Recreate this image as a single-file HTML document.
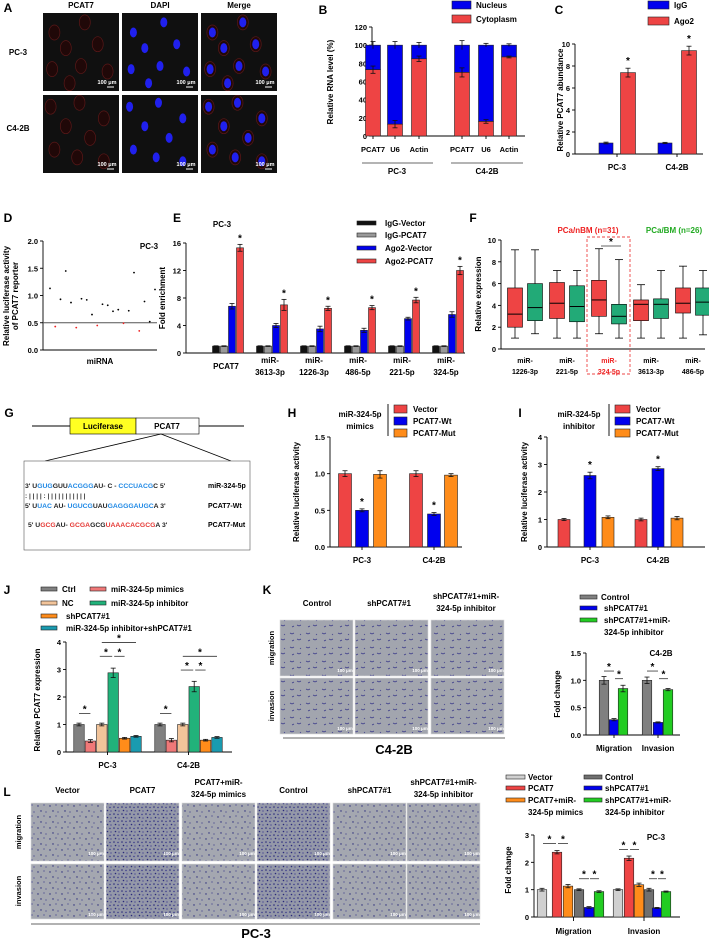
<!DOCTYPE html>
<html><head><meta charset="utf-8"><style>
html,body{margin:0;padding:0;background:#fff;}
svg{display:block;font-family:"Liberation Sans Narrow","Liberation Sans",sans-serif;font-weight:bold;}
</style></head><body>
<svg id="fig" width="709" height="941" viewBox="0 0 709 941" xmlns="http://www.w3.org/2000/svg">
<defs>
<pattern id="cellsSparse" width="12" height="11" patternUnits="userSpaceOnUse">
<rect width="12" height="11" fill="#a4a7b0"/>
<circle cx="2" cy="3" r="0.7" fill="#2a2a7a"/><circle cx="8" cy="2" r="0.6" fill="#3a3a8a"/>
<circle cx="5" cy="8" r="0.7" fill="#2a2a7a"/><circle cx="10" cy="9" r="0.6" fill="#3a3a8a"/>
</pattern>
<pattern id="cellsDense" width="8" height="7" patternUnits="userSpaceOnUse">
<rect width="8" height="7" fill="#9498a8"/>
<circle cx="2" cy="2" r="0.8" fill="#2a2a7a"/><circle cx="6" cy="2.5" r="0.7" fill="#30308a"/>
<circle cx="3.5" cy="5.5" r="0.8" fill="#2a2a7a"/><circle cx="7" cy="6" r="0.6" fill="#30308a"/>
</pattern>
<pattern id="cellsK" width="16" height="14" patternUnits="userSpaceOnUse">
<rect width="16" height="14" fill="#a2a5ae"/>
<path d="M2 3 l2 1 l2 -1 M9 9 l2 1 l2 -1 M4 11 l2 -1 M12 4 l1 1" stroke="#3a3a8a" stroke-width="0.7" fill="none"/>
</pattern>
</defs>
</svg>
<script>
// ===== data =====
const bCats=['PCAT7','U6','Actin','PCAT7','U6','Actin'];
const bCyto=[73,13,85,70,16,87];
const bCytoErr=[4,4,3,5,2,1];
const bTotal=[100,100,100,100,100,100];
const bTotalErr=[4,4,3,5,2,1.5];
const bTicks=[0,20,40,60,80,100,120];

const cGroups=['PC-3','C4-2B'];
const cIgG=[1,1];
const cIgGErr=[0.08,0.06];
const cAgo2=[7.4,9.4];
const cAgo2Err=[0.4,0.4];
const cTicks=[0,2,4,6,8,10];

const dValues=[1.13,0.43,0.93,1.45,0.87,0.41,0.94,0.92,0.65,0.45,0.84,0.82,0.71,0.74,0.49,0.72,1.42,0.35,0.89,0.52,1.11];
const dRed=[0,1,0,0,0,1,0,0,0,1,0,0,0,0,1,0,0,1,0,0,0];
const dTicks=[0,0.5,1,1.5,2];
const dTickLabels=['0.0','0.5','1.0','1.5','2.0'];

const eCats=[['PCAT7'],['miR-','3613-3p'],['miR-','1226-3p'],['miR-','486-5p'],['miR-','221-5p'],['miR-','324-5p']];
const eIgGVec=[1,1,1,1,1,1];
const eIgGPcat=[1,1,1,1,1,1];
const eAgoVec=[6.8,4.0,3.5,3.3,5.0,5.6];
const eAgoPcat=[15.3,7.0,6.5,6.6,7.7,12.0];
const eAgoVecErr=[0.4,0.3,0.4,0.3,0.2,0.4];
const eAgoPcatErr=[0.5,0.8,0.3,0.3,0.4,0.6];
const eTicks=[0,4,8,12,16];

const fCats=[['miR-','1226-3p'],['miR-','221-5p'],['miR-','324-5p'],['miR-','3613-3p'],['miR-','486-5p']];
const fRedMin=[1,1,1.4,1,1];
const fRedQ1=[2,2.8,3.0,2.6,3.3];
const fRedMed=[3.2,4.2,4.5,4.1,4.2];
const fRedQ3=[5.6,6.1,6.3,4.5,5.6];
const fRedMax=[9.1,7.2,9.2,5.9,7.6];
const fGrnMin=[1.4,1,1,1,1.3];
const fGrnQ1=[2.6,2.5,2.3,2.8,3.1];
const fGrnMed=[3.8,3.9,3.0,4.1,4.3];
const fGrnQ3=[6.0,5.8,4.1,4.6,5.6];
const fGrnMax=[9.1,7.2,8.2,7.2,7.2];
const fTicks=[0,2,4,6,8,10];

const hGroups=['PC-3','C4-2B'];
const hVector=[1.0,1.0];
const hWt=[0.50,0.45];
const hMut=[0.99,0.98];
const hVectorErr=[0.04,0.04];
const hWtErr=[0.02,0.02];
const hMutErr=[0.05,0.02];
const hTicks=[0,0.5,1,1.5];
const hTickLabels=['0.0','0.5','1.0','1.5'];

const iGroups=['PC-3','C4-2B'];
const iVector=[1.0,1.0];
const iWt=[2.6,2.85];
const iMut=[1.08,1.05];
const iVectorErr=[0.04,0.05];
const iWtErr=[0.12,0.07];
const iMutErr=[0.05,0.06];
const iTicks=[0,1,2,3,4];

const jGroups=['PC-3','C4-2B'];
const jCtrl=[1,1];
const jMimics=[0.4,0.43];
const jNC=[1,1];
const jInhib=[2.88,2.38];
const jSh=[0.5,0.43];
const jCombo=[0.57,0.53];
const jErr=[[0.05,0.05],[0.05,0.06],[0.05,0.05],[0.17,0.19],[0.03,0.03],[0.03,0.03]];
const jTicks=[0,1,2,3,4];

const kCats=['Migration','Invasion'];
const kControl=[1.0,1.0];
const kSh=[0.28,0.23];
const kCombo=[0.85,0.83];
const kErr=[[0.07,0.06],[0.02,0.01],[0.06,0.02]];
const kTicks=[0,0.5,1,1.5];
const kTickLabels=['0.0','0.5','1.0','1.5'];

const lCats=['Migration','Invasion'];
const lVector=[1,1];
const lPcat=[2.37,2.15];
const lPcatMim=[1.13,1.18];
const lControl=[1,1];
const lSh=[0.35,0.33];
const lCombo=[0.93,0.93];
const lErr=[[0.05,0.03],[0.06,0.08],[0.06,0.06],[0.03,0.05],[0.03,0.02],[0.03,0.02]];
const lTicks=[0,1,2,3];

// ===== helpers =====
const NS='http://www.w3.org/2000/svg';
const svg=document.getElementById('fig');
function mk(tag,attrs,name,parent){
  const el=document.createElementNS(NS,tag);
  for(const k in attrs) el.setAttribute(k,attrs[k]);
  
  
  (parent||svg).appendChild(el);
  return el;
}
function T(x,y,s,size,anchor,fill,name,rot){
  const a={x:x,y:y,'font-size':size||8,'text-anchor':anchor||'middle',fill:fill||'#000'};
  if(rot) a.transform='rotate('+rot+' '+x+' '+y+')';
  const el=mk('text',a,name);
  el.textContent=s;
  return el;
}
function L(x1,y1,x2,y2,name,stroke,w,dash){
  const a={x1:x1,y1:y1,x2:x2,y2:y2,stroke:stroke||'#000','stroke-width':w||0.8};
  if(dash) a['stroke-dasharray']=dash;
  return mk('line',a,name);
}
function R(x,y,w,h,fill,name,stroke){
  return mk('rect',{x:x,y:y,width:w,height:h,fill:fill,stroke:stroke||'none','stroke-width':0.6},name);
}
function lin(d0,d1,p0,p1){return v=>p0+(v-d0)*(p1-p0)/(d1-d0);}
function yAxis(x,sc,ticks,labels,name,fs){
  L(x,sc(ticks[0]),x,sc(ticks[ticks.length-1]),name+'-line','#000',0.9);
  ticks.forEach((t,i)=>{
    L(x-3,sc(t),x,sc(t),name+'-tick','#000',0.9);
    T(x-5,sc(t)+3,labels?labels[i]:String(t),fs||7.5,'end','#000',name+'-label');
  });
}
function bar(cx,w,v,err,sc,color,name){
  R(cx-w/2,sc(v),w,sc(0)-sc(v),color,name,'#222');
  if(err){
    L(cx,sc(v+err),cx,sc(v-err),name+'-error','#111',0.8);
    L(cx-2.5,sc(v+err),cx+2.5,sc(v+err),name+'-error-cap','#111',0.8);
    L(cx-2.5,sc(v-err),cx+2.5,sc(v-err),name+'-error-cap','#111',0.8);
  }
}
function star(x,y,name){T(x,y,'*',10,'middle','#000',name||'significance-star');}
function sig(x1,x2,y,name){L(x1,y,x2,y,name+'-line','#333',0.8);star((x1+x2)/2,y-1,name+'-star');}
function legendRect(x,y,w,h,color,label,name,tx){
  R(x,y-h/2,w,h,color,name+'-swatch','#222');
  T(tx!==undefined?tx:x+w+5,y+3,label,8,'start','#000',name+'-label');
}

// ===== Panel A =====
T(8,12,'A',12,'middle','#000','panel-a-label');
const aCols=[43,122,201],aRows=[13,95],aW=76,aH=78;
['PCAT7','DAPI','Merge'].forEach((s,i)=>T(aCols[i]+aW/2,8,s,8,'middle','#000','panel-a-column-header'));
T(18,55,'PC-3',8,'middle','#000','panel-a-row-label');
T(18,131,'C4-2B',8,'middle','#000','panel-a-row-label');
const cellPos=[[[0.15,0.25],[0.55,0.12],[0.3,0.45],[0.72,0.4],[0.12,0.72],[0.5,0.68],[0.85,0.75],[0.35,0.9]],
               [[0.1,0.15],[0.48,0.1],[0.8,0.3],[0.3,0.4],[0.62,0.55],[0.15,0.7],[0.45,0.8],[0.8,0.85]]];
aRows.forEach((ry,r)=>{
  aCols.forEach((cx,c)=>{
    R(cx,ry,aW,aH,'#101010','micrograph-'+(r?'c4-2b':'pc-3')+'-'+c);
    cellPos[r].forEach(p=>{
      const x=cx+p[0]*aW,y=ry+p[1]*aH;
      if(c===0||c===2) mk('ellipse',{cx:x,cy:y,rx:5.5,ry:7.5,fill:'#200808',stroke:'#5a1818','stroke-width':0.7},'cell-cytoplasm');
      if(c>=1) mk('ellipse',{cx:x,cy:y,rx:3.5,ry:5,fill:'#2020ee'},'cell-nucleus');
    });
    L(cx+aW-12,ry+aH-4,cx+aW-5,ry+aH-4,'scale-bar','#fff',1);
    T(cx+aW-12,ry+aH-7,'100 μm',5.5,'middle','#fff','scale-bar-label');
  });
});

// ===== Panel B =====
T(323,14,'B',12,'middle','#000','panel-b-label');
const bY=lin(0,120,136,27);
const bX=[373,395,419,462,486,509];
yAxis(372,bY,bTicks,null,'panel-b-y-axis');
L(372,bY(0),525,bY(0),'panel-b-x-axis','#000',0.9);
bCats.forEach((c,i)=>{
  R(bX[i]-7.5,bY(bTotal[i]),15,bY(bCyto[i])-bY(bTotal[i]),'#0000ee','bar-nucleus-'+c,'#222');
  bar(bX[i],15,bCyto[i],bCytoErr[i],bY,'#ee4444','bar-cytoplasm-'+c);
  L(bX[i],bY(bTotal[i]+bTotalErr[i]),bX[i],bY(bTotal[i]-bTotalErr[i]),'error-nucleus','#111',0.8);
  L(bX[i]-2.5,bY(bTotal[i]+bTotalErr[i]),bX[i]+2.5,bY(bTotal[i]+bTotalErr[i]),'error-cap','#111',0.8);
  L(bX[i],bY(0),bX[i],bY(0)+3,'panel-b-x-tick','#000',0.9);
  T(bX[i],152,c,7.5,'middle','#000','panel-b-x-label');
});
L(362,163,433,163,'group-line-pc-3','#888',1.2);
L(451,163,523,163,'group-line-c4-2b','#888',1.2);
T(397,174,'PC-3',8,'middle','#000','panel-b-group-label');
T(487,174,'C4-2B',8,'middle','#000','panel-b-group-label');
T(333,82,'Relative RNA level (%)',8,'middle','#000','panel-b-y-title',-90);
legendRect(452,5,19,8,'#0000ee','Nucleus','legend-nucleus',476);
legendRect(452,19,19,8,'#ee4444','Cytoplasm','legend-cytoplasm',476);

// ===== Panel C =====
T(559,14,'C',12,'middle','#000','panel-c-label');
const cY=lin(0,10,154,44);
const cX=[[606,628],[665,689]];
yAxis(575,cY,cTicks,null,'panel-c-y-axis');
L(575,cY(0),703,cY(0),'panel-c-x-axis','#000',0.9);
cGroups.forEach((g,i)=>{
  bar(cX[i][0],14,cIgG[i],cIgGErr[i],cY,'#0000ee','bar-igg-'+g);
  bar(cX[i][1],15,cAgo2[i],cAgo2Err[i],cY,'#ee4444','bar-ago2-'+g);
  star(cX[i][1],cY(cAgo2[i]+cAgo2Err[i])-4,'star-ago2');
  const mid=(cX[i][0]+cX[i][1])/2;
  L(mid,cY(0),mid,cY(0)+3,'panel-c-x-tick','#000',0.9);
  T(mid,170,g,8,'middle','#000','panel-c-x-label');
});
T(563,100,'Relative PCAT7 abundance',8,'middle','#000','panel-c-y-title',-90);
legendRect(648,5,21,8,'#0000ee','IgG','legend-igg',674);
legendRect(648,21,21,8,'#ee4444','Ago2','legend-ago2',674);

// ===== Panel D =====
T(8,222,'D',12,'middle','#000','panel-d-label');
const dY=lin(0,2,350,241);
const dX=lin(0,20,50,155);
yAxis(43,dY,dTicks,dTickLabels,'panel-d-y-axis');
L(43,dY(0),157,dY(0),'panel-d-x-axis','#000',0.9);
L(43,dY(0.5),157,dY(0.5),'panel-d-threshold-line','#555',0.9);
dValues.forEach((v,i)=>{
  mk('circle',{cx:dX(i),cy:dY(v),r:0.9,fill:dRed[i]?'#ee2222':'#000'},'point-mirna-'+i);
});
T(149,249,'PC-3',8,'middle','#000','panel-d-title');
T(100,364,'miRNA',8,'middle','#000','panel-d-x-title');
T(9,296,'Relative luciferase activity',8,'middle','#000','panel-d-y-title',-90);
T(18,296,'of PCAT7 reporter',8,'middle','#000','panel-d-y-title',-90);

// ===== Panel E =====
T(177,222,'E',12,'middle','#000','panel-e-label');
T(222,227,'PC-3',8,'middle','#000','panel-e-title');
const eY=lin(0,16,353,243);
yAxis(186,eY,eTicks,null,'panel-e-y-axis');
L(186,eY(0),465,eY(0),'panel-e-x-axis','#000',0.9);
const eCenters=[226,270,314,358,402,446];
eCats.forEach((c,i)=>{
  const cx=eCenters[i]+2;
  bar(cx-12,7,eIgGVec[i],0.05,eY,'#111','bar-igg-vector-'+i);
  bar(cx-4,7,eIgGPcat[i],0.05,eY,'#999','bar-igg-pcat7-'+i);
  bar(cx+4,7,eAgoVec[i],eAgoVecErr[i],eY,'#0000ee','bar-ago2-vector-'+i);
  bar(cx+12,7,eAgoPcat[i],eAgoPcatErr[i],eY,'#ee4444','bar-ago2-pcat7-'+i);
  star(cx+12,eY(eAgoPcat[i]+eAgoPcatErr[i])-3,'star-ago2-pcat7');
  if(c.length===1) T(eCenters[i],369,c[0],8,'middle','#000','panel-e-x-label');
  else {T(eCenters[i],363,c[0],8,'middle','#000','panel-e-x-label');T(eCenters[i],375,c[1],8,'middle','#000','panel-e-x-label');}
});
T(165,298,'Fold enrichment',8,'middle','#000','panel-e-y-title',-90);
legendRect(357,223,19,4,'#111','IgG-Vector','legend-igg-vector',385);
legendRect(357,235,19,4,'#999','IgG-PCAT7','legend-igg-pcat7',385);
legendRect(357,248,19,4,'#0000ee','Ago2-Vector','legend-ago2-vector',385);
legendRect(357,261,19,4,'#ee4444','Ago2-PCAT7','legend-ago2-pcat7',385);

// ===== Panel F =====
T(473,222,'F',12,'middle','#000','panel-f-label');
T(588,233,'PCa/nBM (n=31)',8,'middle','#ee2222','legend-pca-nbm');
T(674,233,'PCa/BM (n=26)',8,'middle','#22aa22','legend-pca-bm');
const fY=lin(0,10,349,240);
yAxis(501,fY,fTicks,null,'panel-f-y-axis');
L(501,fY(0),705,fY(0),'panel-f-x-axis','#000',0.9);
function box(cx,mn,q1,md,q3,mx,color,name){
  L(cx,fY(mx),cx,fY(mn),name+'-whisker','#000',0.8);
  L(cx-4,fY(mx),cx+4,fY(mx),name+'-whisker-cap','#000',0.8);
  L(cx-4,fY(mn),cx+4,fY(mn),name+'-whisker-cap','#000',0.8);
  R(cx-7.5,fY(q3),15,fY(q1)-fY(q3),color,name,'#000');
  L(cx-7.5,fY(md),cx+7.5,fY(md),name+'-median','#000',1);
}
const fCenters=[525,567,609,651,693];
fCats.forEach((c,i)=>{
  box(fCenters[i]-10,fRedMin[i],fRedQ1[i],fRedMed[i],fRedQ3[i],fRedMax[i],'#ee4444','box-nbm-'+i);
  box(fCenters[i]+10,fGrnMin[i],fGrnQ1[i],fGrnMed[i],fGrnQ3[i],fGrnMax[i],'#22aa77','box-bm-'+i);
  const col=i===2?'#ee2222':'#000';
  T(fCenters[i],363,c[0],7,'middle',col,'panel-f-x-label');
  T(fCenters[i],374,c[1],7,'middle',col,'panel-f-x-label');
});
mk('rect',{x:587,y:237,width:43,height:137,fill:'none',stroke:'#ee4444','stroke-width':0.9,'stroke-dasharray':'3,2'},'highlight-box-mir-324-5p');
sig(601,621,246,'sig-mir-324-5p');
T(481,294,'Relative expression',8,'middle','#000','panel-f-y-title',-90);

// ===== Panel G =====
T(9,417,'G',12,'middle','#000','panel-g-label');
L(32,426,244,426,'construct-line','#000',0.9);
R(70,418,66,16,'#ffff22','luciferase-box','#000');
T(103,429,'Luciferase',8,'middle','#000','luciferase-label');
R(136,418,63,16,'#fff','pcat7-box','#000');
T(167,429,'PCAT7',8,'middle','#000','pcat7-label');
L(161,434,45,461,'zoom-line-left','#000',0.8);
L(161,434,231,461,'zoom-line-right','#000',0.8);
R(24,461,226,89,'#fff','sequence-box','#555');
function seq(x,y,parts,name){
  const t=mk('text',{x:x,y:y,'font-size':6.8,'text-anchor':'start'},name);
  parts.forEach(p=>{const s=document.createElementNS(NS,'tspan');s.setAttribute('fill',p[1]);s.textContent=p[0];t.appendChild(s);});
}
const BL='#1e88e5',RD='#e53935',BK='#222';
seq(25,488,[["3' U",BK],["GUG",BL],["GUU",BK],["ACGGG",BL],["AU- C - ",BK],["CCCUACG",BL],["C 5'",BK]],'mir-324-5p-sequence');
T(25,498,"    : | |       | | : |   | |  |   | | | | | | |",6.5,'start','#333','base-pairing');
seq(25,508,[["5' U",BK],["UAC",BL],[" AU- ",BK],["UGUCG",BL],["UAU",BK],["GAGGGAUGC",BL],["A 3'",BK]],'pcat7-wt-sequence');
seq(28,527,[["5' U",BK],["GCG",RD],["AU- ",BK],["GCGA",RD],["GCG",BK],["UAA",RD],["ACACGCG",RD],["A 3'",BK]],'pcat7-mut-sequence');
T(208,488,'miR-324-5p',7,'start','#000','label-mir-324-5p');
T(208,508,'PCAT7-Wt',7,'start','#000','label-pcat7-wt');
T(208,527,'PCAT7-Mut',7,'start','#000','label-pcat7-mut');

// ===== Panel H =====
T(292,417,'H',12,'middle','#000','panel-h-label');
T(360,417,'miR-324-5p',8,'middle','#000','panel-h-condition');
T(360,429,'mimics',8,'middle','#000','panel-h-condition');
L(388,404,388,436,'panel-h-legend-divider','#000',0.9);
legendRect(394,409,13,8,'#ee4444','Vector','legend-h-vector',413);
legendRect(394,421,13,8,'#0000ee','PCAT7-Wt','legend-h-wt',413);
legendRect(394,433,13,8,'#ff8c1a','PCAT7-Mut','legend-h-mut',413);
const hY=lin(0,1.5,547,437);
yAxis(330,hY,hTicks,hTickLabels,'panel-h-y-axis');
L(330,hY(0),462,hY(0),'panel-h-x-axis','#000',0.9);
const hX=[[345,362,380],[416,434,451]];
hGroups.forEach((g,i)=>{
  bar(hX[i][0],13,hVector[i],hVectorErr[i],hY,'#ee4444','bar-h-vector-'+g);
  bar(hX[i][1],13,hWt[i],hWtErr[i],hY,'#0000ee','bar-h-wt-'+g);
  bar(hX[i][2],13,hMut[i],hMutErr[i],hY,'#ff8c1a','bar-h-mut-'+g);
  star(hX[i][1],hY(hWt[i]+hWtErr[i])-4,'star-h-wt');
  L(hX[i][1],hY(0),hX[i][1],hY(0)+3,'panel-h-x-tick','#000',0.9);
  T(hX[i][1],563,g,8,'middle','#000','panel-h-x-label');
});
T(299,492,'Relative luciferase activity',8,'middle','#000','panel-h-y-title',-90);

// ===== Panel I =====
T(520,417,'I',12,'middle','#000','panel-i-label');
T(579,417,'miR-324-5p',8,'middle','#000','panel-i-condition');
T(579,429,'inhibitor',8,'middle','#000','panel-i-condition');
L(609,404,609,436,'panel-i-legend-divider','#000',0.9);
legendRect(615,409,15,8,'#ee4444','Vector','legend-i-vector',636);
legendRect(615,421,15,8,'#0000ee','PCAT7-Wt','legend-i-wt',636);
legendRect(615,433,15,8,'#ff8c1a','PCAT7-Mut','legend-i-mut',636);
const iY=lin(0,4,547,437);
yAxis(547,iY,iTicks,null,'panel-i-y-axis');
L(547,iY(0),705,iY(0),'panel-i-x-axis','#000',0.9);
const iX=[[564,590,608],[641,658,677]];
iGroups.forEach((g,i)=>{
  bar(iX[i][0],12,iVector[i],iVectorErr[i],iY,'#ee4444','bar-i-vector-'+g);
  bar(iX[i][1],12,iWt[i],iWtErr[i],iY,'#0000ee','bar-i-wt-'+g);
  bar(iX[i][2],12,iMut[i],iMutErr[i],iY,'#ff8c1a','bar-i-mut-'+g);
  star(iX[i][1],iY(iWt[i]+iWtErr[i])-4,'star-i-wt');
  L(iX[i][1],iY(0),iX[i][1],iY(0)+3,'panel-i-x-tick','#000',0.9);
  T(iX[i][1],563,g,8,'middle','#000','panel-i-x-label');
});
T(527,492,'Relative luciferase activity',8,'middle','#000','panel-i-y-title',-90);

// ===== Panel J =====
T(7,594,'J',12,'middle','#000','panel-j-label');
const jColors=['#808080','#f07878','#f2c49a','#21b27a','#ff8c1a','#1a9bb0'];
legendRect(41,589,16,4,jColors[0],'Ctrl','legend-j-ctrl',62);
legendRect(90,589,16,4,jColors[1],'miR-324-5p mimics','legend-j-mimics',111);
legendRect(41,603,16,4,jColors[2],'NC','legend-j-nc',62);
legendRect(90,603,16,4,jColors[3],'miR-324-5p inhibitor','legend-j-inhibitor',111);
legendRect(41,616,16,4,jColors[4],'shPCAT7#1','legend-j-sh',66);
legendRect(41,628,16,4,jColors[5],'miR-324-5p inhibitor+shPCAT7#1','legend-j-combo',66);
const jY=lin(0,4,752,642);
yAxis(66,jY,jTicks,null,'panel-j-y-axis');
L(66,jY(0),232,jY(0),'panel-j-x-axis','#000',0.9);
const jSeries=[jCtrl,jMimics,jNC,jInhib,jSh,jCombo];
const jStart=[79,160];
jGroups.forEach((g,i)=>{
  const xs=[];
  jSeries.forEach((s,k)=>{
    const cx=jStart[i]+k*11.4; xs.push(cx);
    bar(cx,10.5,s[i],jErr[k][i],jY,jColors[k],'bar-j-'+k+'-'+g);
  });
  sig(xs[0],xs[1],jY(1.4),'sig-j-ctrl-mimics');
  sig(xs[2]-2,xs[3]-1,jY(jInhib[i]+0.6),'sig-j-nc-inhibitor');
  sig(xs[3]+1,xs[4],jY(jInhib[i]+0.6),'sig-j-inhibitor-sh');
  sig(xs[2],xs[5],jY(jInhib[i]+1.1),'sig-j-inhibitor-combo');
  const mid=(xs[2]+xs[3])/2;
  L(mid,jY(0),mid,jY(0)+3,'panel-j-x-tick','#000',0.9);
  T(mid,768,g,8,'middle','#000','panel-j-x-label');
});
T(40,700,'Relative PCAT7 expression',8,'middle','#000','panel-j-y-title',-90);

// ===== Panel K =====
T(267,594,'K',12,'middle','#000','panel-k-label');
T(317,606,'Control',8,'middle','#000','panel-k-column-header');
T(389,606,'shPCAT7#1',8,'middle','#000','panel-k-column-header');
T(466,599,'shPCAT7#1+miR-',8,'middle','#000','panel-k-column-header');
T(466,611,'324-5p inhibitor',8,'middle','#000','panel-k-column-header');
const kCols=[280,355,431],kRows=[620,678];
kRows.forEach((ry,r)=>kCols.forEach((cx,c)=>{
  R(cx,ry,73,56,'url(#cellsK)','transwell-k-'+(r?'invasion':'migration')+'-'+c,'#ddd');
  T(cx+65,ry+52,'100 μm',4.5,'middle','#fff','scale-bar-label');
}));
T(274,648,'migration',7.5,'middle','#000','panel-k-row-label',-90);
T(274,706,'invasion',7.5,'middle','#000','panel-k-row-label',-90);
L(283,738,505,738,'panel-k-underline','#999',1.5);
T(394,754,'C4-2B',13,'middle','#000','panel-k-cell-line');
const kColors=['#808080','#0000ee','#22cc22'];
legendRect(580,597,17,4,kColors[0],'Control','legend-k-control',601);
legendRect(580,608,17,4,kColors[1],'shPCAT7#1','legend-k-sh',604);
legendRect(580,620,17,4,kColors[2],'shPCAT7#1+miR-','legend-k-combo',604);
T(604,635,'324-5p inhibitor',8,'start','#000','legend-k-combo-label');
const kY=lin(0,1.5,735,653);
yAxis(586,kY,kTicks,kTickLabels,'panel-k-y-axis');
L(586,kY(0),680,kY(0),'panel-k-x-axis','#000',0.9);
T(661,656,'C4-2B',8,'middle','#000','panel-k-chart-title');
const kX=[[604,614,623],[647,658,668]];
[kControl,kSh,kCombo].forEach((s,k)=>kCats.forEach((c,i)=>bar(kX[i][k],9.5,s[i],kErr[k][i],kY,kColors[k],'bar-k-'+k+'-'+c)));
kCats.forEach((c,i)=>{
  sig(kX[i][0],kX[i][1],kY(1.17),'sig-k-control-sh');
  sig(kX[i][1]+1,kX[i][2],kY(1.03),'sig-k-sh-combo');
  L(kX[i][1],kY(0),kX[i][1],kY(0)+3,'panel-k-x-tick','#000',0.9);
  T(kX[i][1],751,c,8,'middle','#000','panel-k-x-label');
});
T(560,694,'Fold change',8,'middle','#000','panel-k-y-title',-90);

// ===== Panel L =====
T(7,796,'L',12,'middle','#000','panel-l-label');
const lHead=[['Vector'],['PCAT7'],['PCAT7+miR-','324-5p mimics'],['Control'],['shPCAT7#1'],['shPCAT7#1+miR-','324-5p inhibitor']];
const lCols=[31,106,182,257,333,407];
lHead.forEach((h,i)=>{
  const cx=lCols[i]+36.5;
  if(h.length===1) T(cx,793,h[0],8,'middle','#000','panel-l-column-header');
  else {T(cx,785,h[0],8,'middle','#000','panel-l-column-header');T(cx,797,h[1],8,'middle','#000','panel-l-column-header');}
});
const lDense=[0,1,0,1,0,0];
[803,864].forEach((ry,r)=>lCols.forEach((cx,c)=>{
  R(cx,ry,73,r?55:58,lDense[c]?'url(#cellsDense)':'url(#cellsSparse)','transwell-l-'+(r?'invasion':'migration')+'-'+c,'#ddd');
  T(cx+65,ry+52,'100 μm',4.5,'middle','#fff','scale-bar-label');
}));
T(21,832,'migration',7.5,'middle','#000','panel-l-row-label',-90);
T(21,891,'invasion',7.5,'middle','#000','panel-l-row-label',-90);
L(31,924,480,924,'panel-l-underline','#999',1.5);
T(256,938,'PC-3',13,'middle','#000','panel-l-cell-line');
const lColors=['#d0d0d0','#ee4444','#ff8c1a','#707070','#0000ee','#22cc22'];
legendRect(506,777,19,4,lColors[0],'Vector','legend-l-vector',528);
legendRect(506,788,19,4,lColors[1],'PCAT7','legend-l-pcat7',528);
legendRect(506,800,19,4,lColors[2],'PCAT7+miR-','legend-l-pcat7-mimics',528);
T(528,815,'324-5p mimics',8,'start','#000','legend-l-pcat7-mimics-label');
legendRect(584,777,18,4,lColors[3],'Control','legend-l-control',605);
legendRect(584,788,18,4,lColors[4],'shPCAT7#1','legend-l-sh',605);
legendRect(584,800,18,4,lColors[5],'shPCAT7#1+miR-','legend-l-combo',605);
T(605,815,'324-5p inhibitor',8,'start','#000','legend-l-combo-label');
const lY=lin(0,3,917,835);
yAxis(534,lY,lTicks,null,'panel-l-y-axis');
L(534,lY(0),680,lY(0),'panel-l-x-axis','#000',0.9);
T(656,840,'PC-3',8,'middle','#000','panel-l-chart-title');
const lX=[[542,557,568,579,589,599],[618,629,639,649,657,666]];
[lVector,lPcat,lPcatMim,lControl,lSh,lCombo].forEach((s,k)=>lCats.forEach((c,i)=>bar(lX[i][k],9.5,s[i],lErr[k][i],lY,lColors[k],'bar-l-'+k+'-'+c)));
lCats.forEach((c,i)=>{
  sig(lX[i][0]+1,lX[i][1]-1,lY(lPcat[i]+0.32),'sig-l-vector-pcat7');
  sig(lX[i][1]+1,lX[i][2],lY(lPcat[i]+0.32),'sig-l-pcat7-mimics');
  sig(lX[i][3],lX[i][4],lY(1.4),'sig-l-control-sh');
  sig(lX[i][4]+1,lX[i][5],lY(1.4),'sig-l-sh-combo');
  const mid=(lX[i][2]+lX[i][3])/2;
  L(mid,lY(0),mid,lY(0)+4,'panel-l-x-tick','#000',0.9);
  T(mid,934,c,8,'middle','#000','panel-l-x-label');
});
T(511,870,'Fold change',8,'middle','#000','panel-l-y-title',-90);
</script>
</body></html>
